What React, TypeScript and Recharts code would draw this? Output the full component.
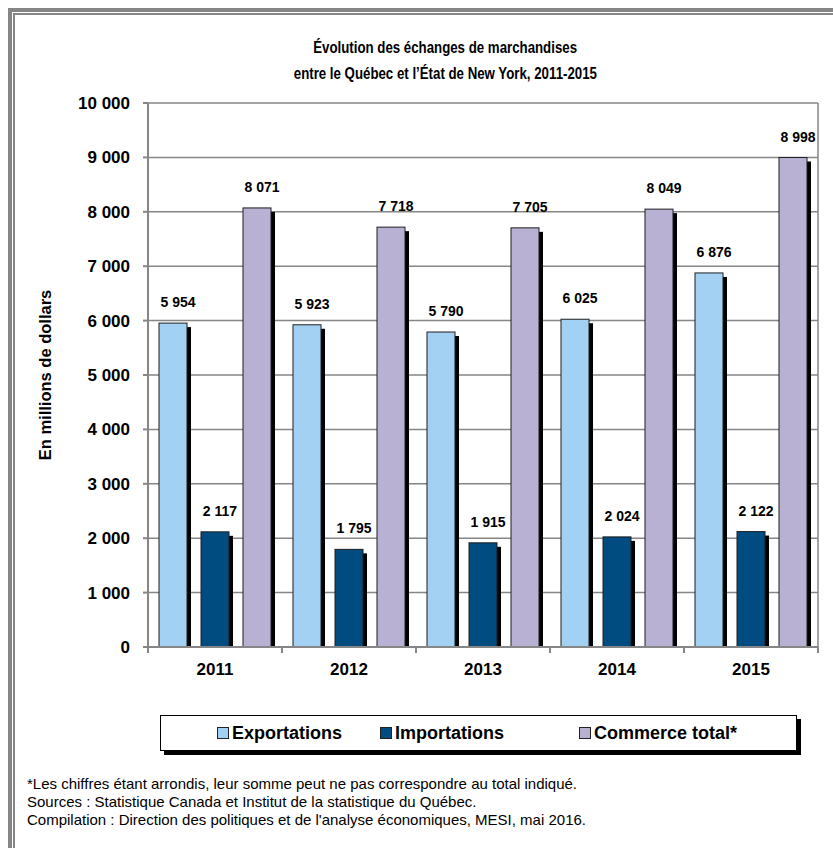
import React from 'react'
import { BarChart, Bar, XAxis, YAxis, CartesianGrid, LabelList } from 'recharts'

const years = ['2011', '2012', '2013', '2014', '2015']
const exportations = [5954, 5923, 5790, 6025, 6876]
const importations = [2117, 1795, 1915, 2024, 2122]
const commerceTotal = [8071, 7718, 7705, 8049, 8998]
const yTicks = [0, 1000, 2000, 3000, 4000, 5000, 6000, 7000, 8000, 9000, 10000]

const seriesNames = ['Exportations', 'Importations', 'Commerce total*']
const seriesColors = ['#a3d1f4', '#004b80', '#b8b1d3']

const titleLines = [
  'Évolution des échanges de marchandises',
  'entre le Québec et l’État de New York, 2011-2015',
]
const notes = [
  '*Les chiffres étant arrondis, leur somme peut ne pas correspondre au total indiqué.',
  'Sources : Statistique Canada et Institut de la statistique du Québec.',
  "Compilation : Direction des politiques et de l'analyse économiques, MESI, mai 2016.",
]

const data = years.map((y, i) => ({
  year: y,
  exp: exportations[i],
  imp: importations[i],
  tot: commerceTotal[i],
}))

const FONT = '"Liberation Sans", Arial, sans-serif'
const CHART_W = 833
const CHART_H = 700
const M = { top: 103, right: 15, bottom: 13, left: 0 }
const Y_W = 148
const BAND = (CHART_W - M.left - M.right - Y_W) / years.length
const GRAY = '#868686'

const fmt = (v: number) => String(v).replace(/\B(?=(\d{3})+(?!\d))/g, ' ')

const ShadowBar = (props: any) => {
  const { x, y, width, height, fill } = props
  if (!height || height <= 0) return null
  return (
    <g>
      <rect x={x + 4} y={y + 4} width={width} height={Math.max(height - 4, 0)} fill="#000" />
      <rect x={x} y={y} width={width} height={height} fill={fill} stroke="#1e1e1e" strokeWidth={1} />
    </g>
  )
}

const YearTick = (props: any) => {
  const { x, y, payload } = props
  return (
    <g>
      <line x1={x - BAND / 2} y1={y - 8} x2={x - BAND / 2} y2={y - 2} stroke={GRAY} strokeWidth={2} />
      <line x1={x + BAND / 2} y1={y - 8} x2={x + BAND / 2} y2={y - 2} stroke={GRAY} strokeWidth={2} />
      <text x={x} y={y + 20} textAnchor="middle" fontSize={17} fontWeight="bold" fill="#000" fontFamily={FONT}>
        {payload.value}
      </text>
    </g>
  )
}

const ValueLabel = (props: any) => {
  const { x, y, width, value } = props
  return (
    <text x={x + width / 2 + 5} y={y - 16} textAnchor="middle" fontSize={14} fontWeight="bold" fill="#000" fontFamily={FONT}>
      {fmt(value)}
    </text>
  )
}

export default function App() {
  const keys = ['exp', 'imp', 'tot']
  return (
    <div style={{ position: 'fixed', left: 0, top: 0, width: 833, height: 848, overflow: 'hidden', background: '#fff', fontFamily: FONT }}>
      <div style={{ position: 'absolute', left: 8, top: 8, width: 860, height: 870, border: `4px solid ${GRAY}`, boxSizing: 'border-box' }}>
        <div style={{ position: 'absolute', left: 1, top: 1, right: 0, bottom: 0, borderLeft: `2px solid ${GRAY}`, borderTop: `2px solid ${GRAY}` }} />
      </div>

      <div style={{ position: 'absolute', left: 0, width: 890, top: 35, textAlign: 'center', fontWeight: 'bold', fontSize: 17, lineHeight: '26px', color: '#000' }}>
        {titleLines.map((t) => (
          <div key={t}>
            <span style={{ display: 'inline-block', transform: 'scaleX(0.78)', whiteSpace: 'nowrap' }}>{t}</span>
          </div>
        ))}
      </div>

      <div style={{ position: 'absolute', left: 0, top: 0 }}>
        <BarChart width={CHART_W} height={CHART_H} data={data} margin={M} barSize={28} barGap={14}>
          <CartesianGrid
            stroke={GRAY}
            strokeWidth={1.5}
            verticalCoordinatesGenerator={({ offset }: any) => [offset.left + offset.width]}
          />
          <XAxis
            dataKey="year"
            height={40}
            axisLine={{ stroke: GRAY, strokeWidth: 2 }}
            tickLine={false}
            tick={<YearTick />}
            interval={0}
          />
          <YAxis
            width={Y_W}
            domain={[0, 10000]}
            ticks={yTicks}
            interval={0}
            tickFormatter={fmt}
            axisLine={{ stroke: GRAY, strokeWidth: 2 }}
            tickLine={{ stroke: GRAY, strokeWidth: 2 }}
            tickSize={5}
            tickMargin={13}
            tick={{ fontSize: 17, fontWeight: 'bold', fill: '#000', fontFamily: FONT }}
          />
          {keys.map((k, i) => (
            <Bar key={k} dataKey={k} name={seriesNames[i]} fill={seriesColors[i]} shape={<ShadowBar />} isAnimationActive={false}>
              <LabelList dataKey={k} content={<ValueLabel />} />
            </Bar>
          ))}
        </BarChart>
      </div>

      <div style={{ position: 'absolute', left: 45, top: 375, transform: 'translate(-50%, -50%) rotate(-90deg)', whiteSpace: 'nowrap', fontWeight: 'bold', fontSize: 16.5, color: '#000' }}>
        En millions de dollars
      </div>

      <div style={{ position: 'absolute', left: 160, top: 715, width: 637, height: 36, border: '1px solid #000', boxSizing: 'border-box', boxShadow: '4px 4px 0 #000', background: '#fff', display: 'flex', alignItems: 'center', paddingLeft: 56 }}>
        {seriesNames.map((n, i) => (
          <div key={n} style={{ display: 'flex', alignItems: 'center', marginRight: i === 0 ? 38 : 0, width: i === 1 ? 199 : 'auto' }}>
            <span style={{ width: 10, height: 10, background: seriesColors[i], border: '1px solid #222', marginRight: 3 }} />
            <span style={{ fontWeight: 'bold', fontSize: 18, color: '#000' }}>{n}</span>
          </div>
        ))}
      </div>

      <div style={{ position: 'absolute', left: 27, top: 775, fontSize: 15, lineHeight: '18px', color: '#000' }}>
        {notes.map((t) => (
          <div key={t}>{t}</div>
        ))}
      </div>
    </div>
  )
}
